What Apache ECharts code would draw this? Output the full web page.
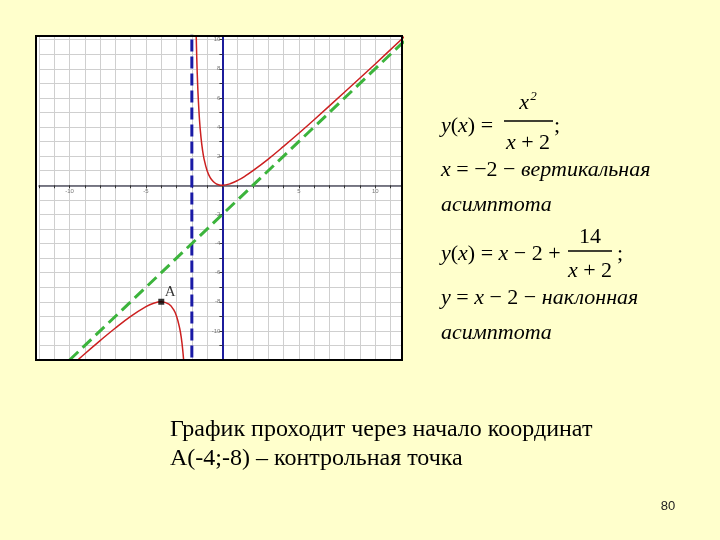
<!DOCTYPE html>
<html>
<head>
<meta charset="utf-8">
<script src="https://cdn.jsdelivr.net/npm/echarts@6/dist/echarts.min.js"></script>
<style>
html,body{margin:0;padding:0;background:#FFFFCC;}
#c{width:720px;height:540px;}
</style>
</head>
<body>
<div id="c"></div>
<script>
// ---- data ----
var rightBranchX = [-1.75, -1.7, -1.65, -1.6, -1.5, -1.4, -1.3, -1.2, -1.0, -0.8, -0.6, -0.4, -0.2, 0, 0.5, 1, 1.5, 2, 3, 4, 5, 6, 8, 10, 12];
var rightBranchY = [12.25, 9.63, 7.78, 6.4, 4.5, 3.27, 2.41, 1.8, 1.0, 0.53, 0.26, 0.1, 0.02, 0, 0.1, 0.33, 0.64, 1.0, 1.8, 2.67, 3.57, 4.5, 6.4, 8.33, 10.3];
var leftBranchX = [-10, -9, -8, -7, -6, -5, -4.5, -4, -3.5, -3.2, -3, -2.8, -2.7, -2.6, -2.5];
var leftBranchY = [-12.5, -11.57, -10.67, -9.8, -9.0, -8.33, -8.1, -8.0, -8.17, -8.53, -9.0, -9.8, -10.4, -11.27, -12.5];
var obliqueX = [-10, 12.5];
var obliqueY = [-12, 10.5];
var verticalX = [-2, -2];
var verticalY = [-13, 11];
var pointA = [-4, -8];
var xTickLabels = [-10, -5, 5, 10];
var yTickLabels = [-10, -8, -6, -4, -2, 2, 4, 6, 8, 10];

function zip(xs, ys){ return xs.map(function(x,i){ return [x, ys[i]]; }); }

var X_MIN = -12, X_MAX = 11.75, Y_MIN = -12, Y_MAX = 10.25;
var G_LEFT = 39, G_TOP = 36, G_W = 363, G_H = 324;
// offsets that move the axes onto the zero lines (labels included)
var yAxisOffset = -(G_W * (0 - X_MIN) / (X_MAX - X_MIN));
var xAxisOffset = -(G_H * (0 - Y_MIN) / (Y_MAX - Y_MIN));

var serif = "'Liberation Serif', 'DejaVu Serif', serif";
var richMath = {
  i: {fontStyle: 'italic', fontFamily: serif, fontSize: 22, color: '#000'},
  n: {fontFamily: serif, fontSize: 22, color: '#000'},
  sup: {fontStyle: 'italic', fontFamily: serif, fontSize: 13, color: '#000', verticalAlign: 'top', padding: [0,0,12,1]}
};
function mtext(x, y, str, align){
  return {type: 'text', x: x, y: y, z: 50, style: {text: str, rich: richMath, align: align || 'left', verticalAlign: 'middle', fontFamily: serif, fontSize: 22, fill: '#000'}};
}
function bar(x1, x2, y){
  return {type: 'line', z: 50, shape: {x1: x1, y1: y, x2: x2, y2: y}, style: {stroke: '#000', lineWidth: 1.3}};
}

var chart = echarts.init(document.getElementById('c'));
chart.setOption({
  backgroundColor: '#FFFFCC',
  animation: false,
  grid: {left: G_LEFT, top: G_TOP, width: G_W, height: G_H, show: false},
  xAxis: {
    type: 'value', min: X_MIN, max: X_MAX, interval: 1, position: 'bottom', offset: xAxisOffset,
    axisLine: {onZero: false, lineStyle: {color: '#555566', width: 1.5}},
    axisTick: {show: true, length: 3, lineStyle: {color: '#333', width: 1}},
    axisLabel: {fontSize: 6, color: '#777', margin: 3, fontFamily: 'Liberation Sans',
      formatter: function(v){ return xTickLabels.indexOf(v) >= 0 ? String(v) : ''; }},
    splitLine: {show: true, lineStyle: {color: '#cfcfcf', width: 1}}
  },
  yAxis: {
    type: 'value', min: Y_MIN, max: Y_MAX, interval: 1, position: 'left', offset: yAxisOffset,
    axisLine: {onZero: false, lineStyle: {color: '#1c1c9c', width: 2}},
    axisTick: {show: true, length: 3, lineStyle: {color: '#333', width: 1}},
    axisLabel: {fontSize: 6, color: '#777', margin: 2, fontFamily: 'Liberation Sans',
      formatter: function(v){ return yTickLabels.indexOf(v) >= 0 ? String(v) : ''; }},
    splitLine: {show: true, lineStyle: {color: '#cfcfcf', width: 1}}
  },
  series: [
    {type: 'line', data: zip(verticalX, verticalY), symbol: 'none', clip: true,
      lineStyle: {color: '#1a1aa6', width: 3, type: [12, 5]}, z: 3},
    {type: 'line', data: zip(obliqueX, obliqueY), symbol: 'none', clip: true,
      lineStyle: {color: '#3cb43c', width: 3, type: [12, 6]}, z: 3},
    {type: 'line', data: zip(rightBranchX, rightBranchY), symbol: 'none', smooth: 0.4, clip: true,
      lineStyle: {color: '#cc2020', width: 1.5}, z: 4},
    {type: 'line', data: zip(leftBranchX, leftBranchY), symbol: 'none', smooth: 0.4, clip: true,
      lineStyle: {color: '#cc2020', width: 1.5}, z: 4},
    {type: 'scatter', data: [pointA], symbol: 'rect', symbolSize: 6, itemStyle: {color: '#000'}, z: 5,
      label: {show: true, formatter: 'A', position: 'inside', offset: [9, -10], fontFamily: serif, fontSize: 15, color: '#000', textBorderWidth: 0}}
  ],
  graphic: [
    {type: 'rect', z: -10, shape: {x: 36, y: 36, width: 366, height: 324}, style: {fill: '#ffffff'}},
    {type: 'rect', z: 100, shape: {x: 36, y: 36, width: 366, height: 324}, style: {fill: 'none', stroke: '#000', lineWidth: 2}},
    // first formula
    mtext(441, 126, '{i|y}{n|(}{i|x}{n|) =}'),
    mtext(528, 103, '{i|x}{sup|2}', 'center'),
    bar(504, 553, 121),
    mtext(528, 143, '{i|x}{n| + 2}', 'center'),
    mtext(554, 126, '{n|;}'),
    mtext(441, 170, '{i|x}{n| = −2 − }{i|вертикальная}'),
    mtext(441, 205, '{i|асимптота}'),
    // second formula
    mtext(441, 254, '{i|y}{n|(}{i|x}{n|) = }{i|x}{n| − 2 +}'),
    mtext(590, 237, '{n|14}', 'center'),
    bar(568, 612, 251),
    mtext(590, 271, '{i|x}{n| + 2}', 'center'),
    mtext(617, 254, '{n|;}'),
    mtext(441, 298, '{i|y}{n| = }{i|x}{n| − 2 − }{i|наклонная}'),
    mtext(441, 333, '{i|асимптота}'),
    // bottom text
    {type: 'text', x: 170, y: 430, z: 50, style: {text: 'График проходит через начало координат', fontFamily: serif, fontSize: 24, fill: '#000', verticalAlign: 'middle'}},
    {type: 'text', x: 170, y: 459, z: 50, style: {text: 'A(-4;-8) – контрольная точка', fontFamily: serif, fontSize: 24, fill: '#000', verticalAlign: 'middle'}},
    {type: 'text', x: 668, y: 506, z: 50, style: {text: '80', fontFamily: "'Liberation Sans', Arial, sans-serif", fontSize: 13, fill: '#222', align: 'center', verticalAlign: 'middle'}}
  ]
});
</script>
</body>
</html>
